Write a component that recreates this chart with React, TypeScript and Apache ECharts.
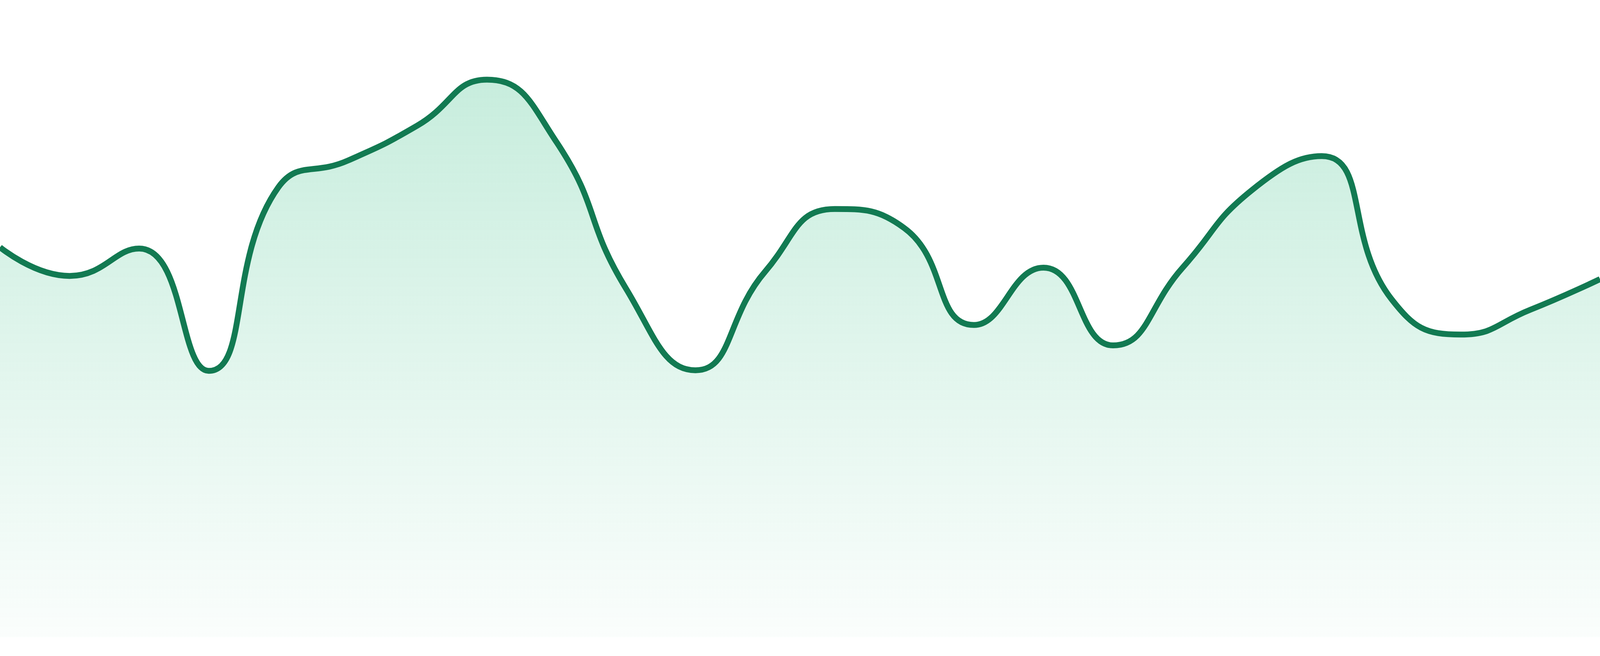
import { useEffect, useRef } from 'react';
import * as echarts from 'echarts';

// 24 equally spaced points
const categories = [
  'P1', 'P2', 'P3', 'P4', 'P5', 'P6', 'P7', 'P8', 'P9', 'P10', 'P11', 'P12',
  'P13', 'P14', 'P15', 'P16', 'P17', 'P18', 'P19', 'P20', 'P21', 'P22', 'P23', 'P24',
];
const values = [
  61.2, 56.7, 61.0, 41.8, 70.6, 74.8, 80.3, 87.5, 77.7, 54.7, 41.9, 57.4,
  67.2, 64.2, 49.0, 58.0, 45.8, 58.0, 70.2, 75.5, 53.1, 47.5, 51.4, 56.2,
];
const yMin = 0;
const yMax = 100;

const LINE_COLOR = '#127a52';

const App: React.FC = () => {
  const chartRef = useRef<HTMLDivElement>(null);

  useEffect(() => {
    const el = chartRef.current;
    if (!el) return;
    const chart = echarts.init(el, undefined, { renderer: 'svg' });
    // sizes were measured on a 1680px tall picture
    const k = (el.clientHeight || 1680) / 1680;

    chart.setOption({
      animation: false,
      grid: { left: 0, right: 0, top: 0, bottom: 48 * k },
      xAxis: {
        type: 'category',
        data: categories,
        boundaryGap: false,
        show: false,
      },
      yAxis: {
        type: 'value',
        min: yMin,
        max: yMax,
        show: false,
      },
      series: [
        {
          type: 'line',
          data: values,
          smooth: true,
          showSymbol: false,
          lineStyle: { color: LINE_COLOR, width: 15 * k },
          areaStyle: {
            color: new echarts.graphic.LinearGradient(0, 0, 0, 1, [
              { offset: 0, color: 'rgba(35, 184, 121, 0.36)' },
              { offset: 1, color: 'rgba(35, 184, 121, 0.03)' },
            ]),
          },
        },
      ],
    });

    return () => {
      chart.dispose();
    };
  }, []);

  return (
    <div
      ref={chartRef}
      style={{ position: 'fixed', left: 0, top: 0, width: '100vw', height: '100vh' }}
    />
  );
};

export default App;
